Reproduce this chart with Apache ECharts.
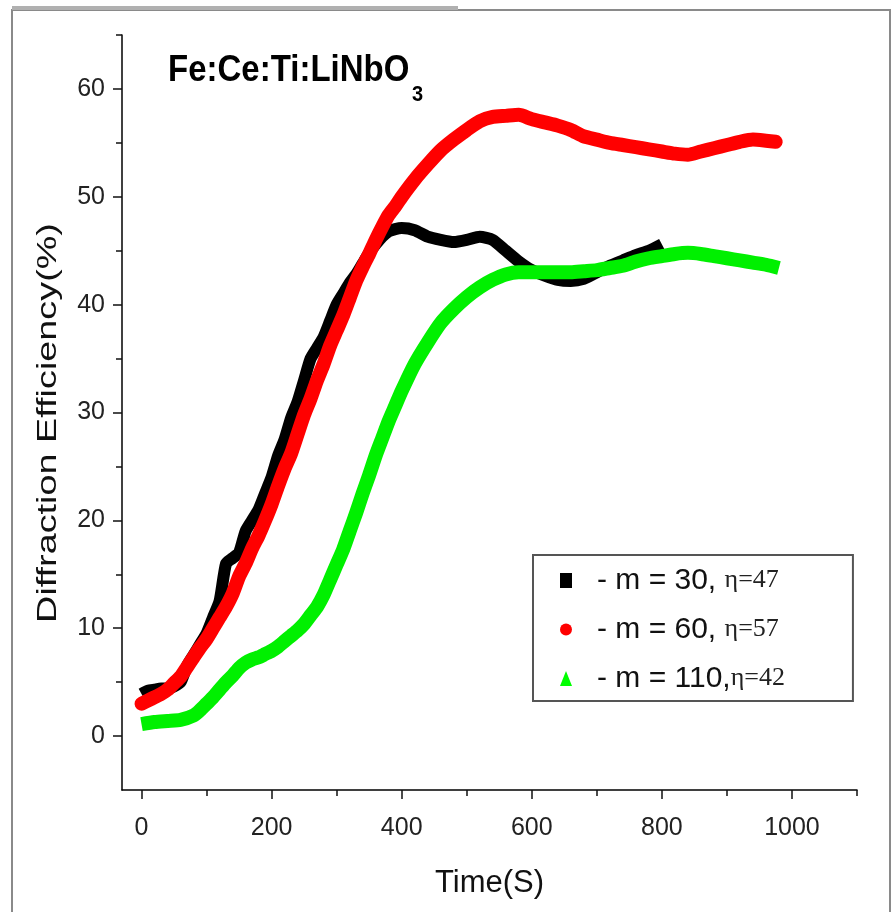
<!DOCTYPE html>
<html><head><meta charset="utf-8">
<script src="https://cdn.jsdelivr.net/npm/echarts@6/dist/echarts.min.js"></script>
<style>html,body{margin:0;padding:0;background:#fff}#c{width:895px;height:912px}</style>
</head><body><div id="c"></div>
<script>
// ---- tick values ----
const xTicksMajor = [0, 200, 400, 600, 800, 1000];
const xTicksMinor = [100, 300, 500, 700, 900, 1100];
const yTicksMajor = [0, 10, 20, 30, 40, 50, 60];
const yTicksMinor = [5, 15, 25, 35, 45, 55, 65];

// ---- text ----
const titleMain = 'Fe:Ce:Ti:LiNbO';
const titleSub = '3';
const xTitle = 'Time(S)';
const yTitle = 'Diffraction Efficiency(%)';
const seriesNames = ['m30', 'm60', 'm110'];
const legendMain = ['- m = 30, ', '- m = 60, ', '- m = 110,'];
const legendEta = ['\u03b7=47', '\u03b7=57', '\u03b7=42'];

// ---- data: m = 30 (black) ----
const timeBlack = [0,10,20,30,40,50,60,70,80,90,100,110,120,130,140,150,160,170,180,190,200,210,220,230,240,250,260,270,280,290,300,310,320,330,340,350,360,370,380,390,400,420,440,460,480,500,520,540,560,580,600,620,640,660,680,700,720,740,760,780,800];
const effBlack  = [3.9,4.2,4.3,4.4,4.4,4.6,5.0,6.5,7.5,8.5,9.5,11.0,12.5,16.0,16.5,17.0,19.0,20.0,21.0,22.5,24.0,26.0,27.5,29.5,31.0,33.0,35.0,36.0,37.0,38.5,40.0,41.0,42.0,42.8,43.8,44.8,45.6,46.3,46.8,47.0,47.1,46.9,46.3,46.0,45.8,46.0,46.3,46.0,45.0,44.0,43.2,42.7,42.3,42.2,42.4,43.0,43.6,44.1,44.6,45.0,45.6];

// ---- data: m = 60 (red) ----
const timeRed = [0,10,20,30,40,50,60,70,80,90,100,110,120,130,140,150,160,170,180,190,200,210,220,230,240,250,260,270,280,290,300,310,320,330,340,350,360,370,380,390,400,420,440,460,480,500,520,540,560,580,600,620,640,660,680,700,720,740,760,780,800,820,840,860,880,900,920,940,960,975];
const effRed  = [3.0,3.3,3.6,3.9,4.3,4.9,5.5,6.4,7.3,8.2,9.0,10.0,11.0,12.0,13.2,14.8,16.0,17.4,18.6,20.0,21.5,23.2,24.8,26.2,28.0,29.8,31.3,33.0,34.5,36.2,37.6,39.0,40.6,42.2,43.5,44.7,46.0,47.2,48.3,49.1,50.0,51.6,53.0,54.3,55.3,56.2,57.0,57.4,57.5,57.6,57.2,56.9,56.6,56.2,55.6,55.3,55.0,54.8,54.6,54.4,54.2,54.0,53.9,54.2,54.5,54.8,55.1,55.3,55.2,55.1];

// ---- data: m = 110 (green) ----
const timeGreen = [0,20,40,60,80,90,100,110,120,130,140,150,160,170,180,190,200,210,220,230,240,250,260,270,280,290,300,310,320,330,340,350,360,370,380,390,400,420,440,460,480,500,520,540,560,580,600,620,640,660,680,700,720,740,760,780,800,820,840,860,880,900,920,940,960,980];
const effGreen  = [1.1,1.3,1.4,1.5,1.9,2.4,3.0,3.6,4.3,5.0,5.6,6.3,6.8,7.1,7.3,7.6,7.9,8.3,8.8,9.3,9.8,10.4,11.2,12.0,13.1,14.5,15.9,17.3,19.0,20.7,22.5,24.2,26.0,27.6,29.2,30.6,32.0,34.5,36.5,38.3,39.6,40.7,41.6,42.3,42.8,43.0,43.0,43.0,43.0,43.0,43.1,43.2,43.4,43.6,44.0,44.3,44.5,44.7,44.8,44.7,44.5,44.3,44.1,43.9,43.7,43.4];

const pairs = (t, v) => t.map((x, i) => [x, v[i]]);

const chart = echarts.init(document.getElementById('c'), null, {renderer: 'canvas'});
const sans = '"Liberation Sans", Arial, sans-serif';

const axisCommon = {
  type: 'value', splitLine: {show: false}
};

chart.setOption({
  animation: false,
  backgroundColor: '#fff',
  grid: {left: 122, right: 38, top: 35, bottom: 122, containLabel: false},
  xAxis: [
    Object.assign({}, axisCommon, {
      min: -30, max: 1100, position: 'bottom',
      axisLine: {show: true, onZero: false, lineStyle: {color: '#000', width: 1.5}},
      axisTick: {show: true, customValues: xTicksMajor, length: 9, lineStyle: {color: '#111', width: 1.5}},
      axisLabel: {customValues: xTicksMajor, margin: 26, fontFamily: sans, fontSize: 25, color: '#222',
        formatter: function (v) { return String(v); }},
      name: xTitle, nameLocation: 'middle', nameGap: 78,
      nameTextStyle: {fontFamily: sans, fontSize: 31, color: '#111'}
    }),
    Object.assign({}, axisCommon, {
      min: -30, max: 1100, position: 'bottom',
      axisLine: {show: false, onZero: false},
      axisTick: {show: true, customValues: xTicksMinor, length: 6, lineStyle: {color: '#111', width: 1.5}},
      axisLabel: {show: false}
    })
  ],
  yAxis: [
    Object.assign({}, axisCommon, {
      min: -5, max: 65, position: 'left',
      axisLine: {show: true, onZero: false, lineStyle: {color: '#000', width: 1.5}},
      axisTick: {show: true, customValues: yTicksMajor, length: 9, lineStyle: {color: '#111', width: 1.5}},
      axisLabel: {customValues: yTicksMajor, margin: 17, fontFamily: sans, fontSize: 25, color: '#222'}
    }),
    Object.assign({}, axisCommon, {
      min: -5, max: 65, position: 'left',
      axisLine: {show: false, onZero: false},
      axisTick: {show: true, customValues: yTicksMinor, length: 6, lineStyle: {color: '#111', width: 1.5}},
      axisLabel: {show: false}
    })
  ],
  legend: {
    orient: 'vertical', left: 533, top: 555,
    padding: [9, 68, 6, 27],
    borderColor: '#555', borderWidth: 2,
    itemWidth: 12, itemHeight: 15, itemGap: 16,
    data: [
      {name: seriesNames[0], icon: 'rect'},
      {name: seriesNames[1], icon: 'circle'},
      {name: seriesNames[2], icon: 'triangle'}
    ],
    formatter: function (name) {
      const i = seriesNames.indexOf(name);
      return '{a|' + legendMain[i] + '}{b|' + legendEta[i] + '}';
    },
    textStyle: {
      lineHeight: 33,
      rich: {
        a: {fontFamily: sans, fontSize: 30, color: '#111', padding: [0, 0, 0, 20], lineHeight: 33},
        b: {fontFamily: '"Liberation Serif", "Times New Roman", serif', fontSize: 26, color: '#222', lineHeight: 33}
      }
    }
  },
  graphic: [
    {type: 'rect', shape: {x: 12, y: 10, width: 878, height: 920}, style: {fill: 'none', stroke: '#8a8a8a', lineWidth: 2}, silent: true},
    {type: 'line', shape: {x1: 12, y1: 8, x2: 458, y2: 8}, style: {stroke: '#b0b0b0', lineWidth: 4}, silent: true},
    {type: 'text', x: 168, y: 52, scaleY: 1.12,
      style: {text: titleMain, font: 'bold 33px "Liberation Sans", Arial, sans-serif', fill: '#000', verticalAlign: 'top'}},
    {type: 'text', x: 412, y: 84, scaleY: 1.1,
      style: {text: titleSub, font: 'bold 20px "Liberation Sans", Arial, sans-serif', fill: '#000', verticalAlign: 'top'}},
    {type: 'text', x: 49, y: 423, rotation: Math.PI / 2, scaleX: 1.4,
      style: {text: yTitle, font: '27px "Liberation Sans", Arial, sans-serif', fill: '#111', align: 'center', verticalAlign: 'middle'}}
  ],
  series: [
    {type: 'line', name: seriesNames[0], data: pairs(timeBlack, effBlack), symbol: 'none', smooth: 0.2,
      color: '#000', lineStyle: {width: 12, color: '#000', cap: 'butt', join: 'round'}, z: 2},
    {type: 'line', name: seriesNames[1], data: pairs(timeRed, effRed), symbol: 'none', smooth: 0.2,
      color: '#ff0000', lineStyle: {width: 14, color: '#ff0000', cap: 'round', join: 'round'}, z: 3},
    {type: 'line', name: seriesNames[2], data: pairs(timeGreen, effGreen), symbol: 'none', smooth: 0.2,
      color: '#00ff00', lineStyle: {width: 14, color: '#00f000', cap: 'butt', join: 'round'}, z: 4}
  ]
});
</script></body></html>
